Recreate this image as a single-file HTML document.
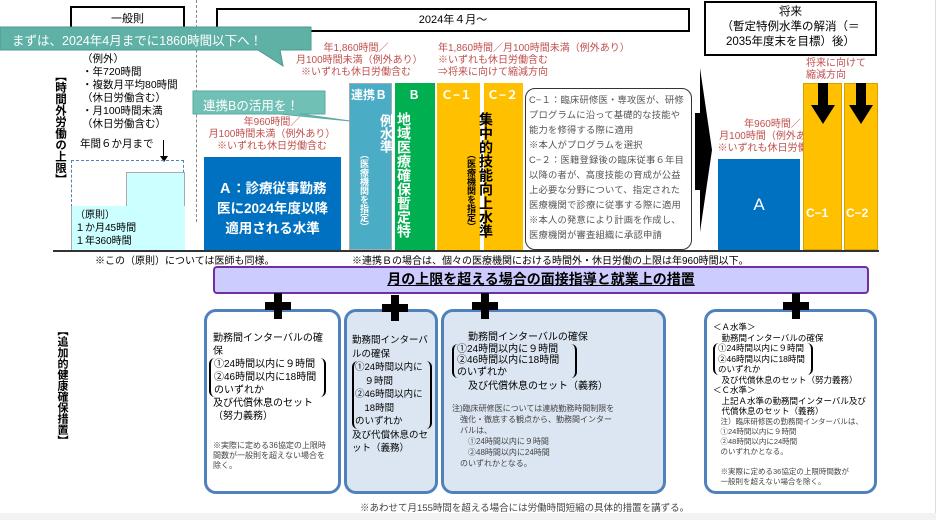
<!DOCTYPE html>
<html><head><meta charset="utf-8"><style>
*{margin:0;padding:0;box-sizing:border-box}
body{width:936px;height:520px;background:#fff;position:relative;overflow:hidden;font-family:"Liberation Sans","Noto Sans CJK JP",sans-serif;color:#000}
.a{position:absolute}
.box{position:absolute;border:2px solid #000;background:#fff;text-align:center;font-size:11px}
.red{color:#c0504d;font-size:10px;line-height:12px;position:absolute;text-align:center;white-space:nowrap}
.v{writing-mode:vertical-rl;position:absolute;font-weight:bold;color:#fff}
.lb{position:absolute;border:3px solid #4f81bd;border-radius:12px;font-size:9.5px;line-height:12px;padding:4px 6px}
.plus{position:absolute;width:26px;height:26px}
.plus:before{content:"";position:absolute;left:9px;top:0;width:8px;height:26px;background:#000}
.plus:after{content:"";position:absolute;left:0;top:9px;width:26px;height:8px;background:#000}
.sm{font-size:8px;line-height:10px;color:#444}
.br{border-left:2px solid #000;border-right:2px solid #000;border-radius:6px;padding:0 3px}
</style></head><body>
<div class="a" style="left:935px;top:0;width:1px;height:520px;background:#ddd"></div>
<div class="a" style="left:0;top:513px;width:936px;height:7px;background:#f2f2f2"></div>
<div class="a" style="left:196px;top:0;height:222px;border-left:1.5px dashed #888"></div>
<div class="box" style="left:70px;top:6px;width:115px;height:26px;line-height:22px">一般則</div>
<div class="box" style="left:216px;top:8px;width:474px;height:24px;line-height:20px">2024年４月～</div>
<div class="box" style="left:704px;top:1px;width:173px;height:55px;line-height:15px;padding-top:2px;font-size:11.5px">将来<br>（暫定特例水準の解消（＝<br>2035年度末を目標）後）</div>
<div class="a" style="left:82px;top:53px;font-size:10.5px;line-height:13px">（例外）<br>・年720時間<br>・複数月平均80時間<br>（休日労働含む）<br>・月100時間未満<br>（休日労働含む）</div>
<div class="a" style="left:80px;top:136px;font-size:10.5px">年間６か月まで</div>
<div class="a" style="left:163px;top:140px;width:1px;height:20px;background:#000"></div>
<div class="a" style="left:160px;top:156px;border-left:4px solid transparent;border-right:4px solid transparent;border-top:6px solid #000"></div>
<div class="v" style="left:53px;top:70px;color:#000;font-size:11.5px;line-height:14px">【時間外労働の上限】</div>
<div class="a" style="left:71px;top:160px;width:113px;height:47px;border:1px dashed #4f81bd"></div>
<div class="a" style="left:126px;top:172px;width:59px;height:78px;background:#ccffff;border:1px solid #aaa;border-bottom:none"></div>
<div class="a" style="left:71px;top:206px;width:114px;height:44px;background:#ccffff;border-left:1px solid #aaa"></div>
<div class="a" style="left:75px;top:209px;font-size:10px;line-height:13px">（原則）<br>１か月45時間<br>１年360時間</div>
<div class="a" style="left:53px;top:250px;width:826px;height:1.5px;background:#333"></div>
<div class="a" style="left:95px;top:252px;font-size:10px">※この（原則）については医師も同様。</div>
<div class="a" style="left:352px;top:252px;font-size:10px">※連携Ｂの場合は、個々の医療機関における時間外・休日労働の上限は年960時間以下。</div>
<div class="red" style="left:296px;top:43px;width:120px">年1,860時間／<br>月100時間未満（例外あり）<br>※いずれも休日労働含む</div>
<div class="red" style="left:438px;top:43px;text-align:left">年1,860時間／月100時間未満（例外あり）<br>※いずれも休日労働含む<br>⇒将来に向けて縮減方向</div>
<div class="red" style="left:207px;top:117px;width:130px">年960時間／<br>月100時間未満（例外あり）<br>※いずれも休日労働含む</div>
<div class="red" style="left:710px;top:119px;width:125px">年960時間／<br>月100時間（例外あり）<br>※いずれも休日労働含む</div>
<div class="red" style="left:806px;top:58px;text-align:left">将来に向けて<br>縮減方向</div>
<div class="a" style="left:204px;top:157px;width:137px;height:93px;background:#0070c0;color:#fff;font-weight:bold;font-size:13.5px;line-height:20px;text-align:center;padding-top:22px">Ａ：診療従事勤務<br>医に2024年度以降<br>適用される水準</div>
<div class="a" style="left:349px;top:83px;width:43px;height:167px;background:#4bacc6;border:1px solid #aaa"></div>
<div class="a" style="left:351px;top:86px;color:#fff;font-weight:bold;font-size:12px">連携Ｂ</div>
<div class="v" style="left:376px;top:114px;font-size:13px">例水準</div>
<div class="v" style="left:358px;top:150px;font-size:9px;color:#fff">（医療機関を指定）</div>
<div class="a" style="left:395px;top:83px;width:40px;height:167px;background:#00b050"></div>
<div class="a" style="left:408px;top:86px;color:#fff;font-weight:bold;font-size:12px">Ｂ</div>
<div class="v" style="left:395px;top:112px;font-size:14px;line-height:18px">地域医療確保暫定特</div>
<div class="a" style="left:437px;top:83px;width:43px;height:167px;background:#ffc000"></div>
<div class="a" style="left:484px;top:83px;width:39px;height:167px;background:#ffc000"></div>
<div class="a" style="left:441px;top:86px;color:#fff;font-weight:bold;font-size:12px">Ｃ−１</div>
<div class="a" style="left:487px;top:86px;color:#fff;font-weight:bold;font-size:12px">Ｃ−２</div>
<div class="v" style="left:478px;top:112px;color:#000;font-size:14px;line-height:16px">集中的技能向上水準</div>
<div class="v" style="left:465px;top:150px;color:#000;font-size:9px">（医療機関を指定）</div>
<div class="a" style="left:525px;top:88px;width:167px;height:162px;border:1.5px solid #333;border-radius:10px;font-size:9.3px;line-height:15px;color:#555;padding:4px 3px;letter-spacing:0.2px">C−１：臨床研修医・専攻医が、研修プログラムに沿って基礎的な技能や能力を修得する際に適用<br>※本人がプログラムを選択<br>C−２：医籍登録後の臨床従事６年目以降の者が、高度技能の育成が公益上必要な分野について、指定された医療機関で診療に従事する際に適用<br>※本人の発意により計画を作成し、医療機関が審査組織に承認申請</div>
<svg class="a" style="left:692px;top:68px" width="24" height="165"><polygon points="3,45 8,45 8,0 20,82 8,164 8,122 3,122" fill="#000"/></svg>
<div class="a" style="left:718px;top:159px;width:82px;height:91px;background:#0070c0;color:#fff;font-size:17px;text-align:center;line-height:91px">A</div>
<div class="a" style="left:803px;top:83px;width:39px;height:167px;background:#ffc000;border:1px solid #d9a000"></div>
<div class="a" style="left:844px;top:83px;width:34px;height:167px;background:#ffc000;border:1px solid #d9a000"></div>
<svg class="a" style="left:809px;top:83px" width="70" height="42"><polygon points="9,0 19,0 19,22 26,22 14,41 2,22 9,22" fill="#000"/><polygon points="47,0 57,0 57,22 64,22 52,41 40,22 47,22" fill="#000"/></svg>
<div class="a" style="left:806px;top:206px;color:#fff;font-weight:bold;font-size:12px">C−1</div>
<div class="a" style="left:846px;top:206px;color:#fff;font-weight:bold;font-size:12px">C−2</div>
<svg class="a" style="left:0;top:26px" width="360" height="100"><polygon points="0,1 311,1 311,24 280,24 283,40 258,24 0,24" fill="#5fb0a5" stroke="#4a9a90"/><polygon points="193,65 325,65 325,88 300,88 350,95 280,88 193,88" fill="#70c0b5" stroke="#5aaaa0"/></svg>
<div class="a" style="left:12px;top:30px;color:#fff;font-size:12.5px">まずは、2024年4月までに1860時間以下へ！</div>
<div class="a" style="left:203px;top:95px;color:#fff;font-size:12.5px">連携Bの活用を！</div>
<div class="a" style="left:213px;top:266px;width:656px;height:28px;background:#ccccff;border:2.5px solid #7030a0;border-radius:4px;font-size:14px;font-weight:bold;text-align:center;line-height:23px"><u>月の上限を超える場合の面接指導と就業上の措置</u></div>
<div class="v" style="left:55px;top:325px;color:#000;font-size:11px;line-height:14px">【追加的健康確保措置】</div>
<div class="lb" style="left:204px;top:309px;width:137px;height:185px;background:#fff;padding-top:20px;font-size:10px;line-height:13px">勤務間インターバルの確保<div class="br" style="width:117px;margin-left:-4px">①24時間以内に９時間<br>②46時間以内に18時間<br>のいずれか</div>及び代償休息のセット<br>（努力義務）<div class="sm" style="margin-top:18px">※実際に定める36協定の上限時間数が一般則を超えない場合を除く。</div></div>
<div class="lb" style="left:344px;top:309px;width:94px;height:185px;background:#dce6f2;padding:22px 3px 0 5px;font-size:9.5px;line-height:13.5px">勤務間インターバルの確保<div class="br" style="padding:0 1px;white-space:nowrap">①24時間以内に<br>　９時間<br>②46時間以内に<br>　18時間<br>のいずれか</div>及び代償休息のセット（義務）</div>
<div class="lb" style="left:441px;top:309px;width:225px;height:185px;background:#dce6f2;padding:20px 10px 0 8px;font-size:10px;line-height:11.5px"><div style="padding-left:16px">勤務間インターバルの確保</div><div class="br" style="width:125px">①24時間以内に９時間<br>②46時間以内に18時間<br>のいずれか</div><div style="padding-left:16px;margin-top:3px">及び代償休息のセット（義務）</div><div class="sm" style="margin-top:10px;line-height:11px">注)臨床研修医については連続勤務時間制限を<br>　強化・徹底する観点から、勤務間インター<br>　バルは、<br>　　①24時間以内に９時間<br>　　②48時間以内に24時間<br>　のいずれかとなる。</div></div>
<div class="lb" style="left:704px;top:309px;width:173px;height:185px;background:#fff;padding:10px 4px 0 6px;font-size:8.5px;line-height:10.5px">＜Ａ水準＞<br>　勤務間インターバルの確保<div class="br" style="width:100px">①24時間以内に９時間<br>②46時間以内に18時間<br>のいずれか</div>　及び代償休息のセット（努力義務）<br>＜Ｃ水準＞<br>　上記Ａ水準の勤務間インターバル及び<br>　代償休息のセット（義務）<div class="sm" style="font-size:7.5px">　注）臨床研修医の勤務間インターバルは、<br>　①24時間以内に９時間<br>　②48時間以内に24時間<br>　のいずれかとなる。<br><br>　※実際に定める36協定の上限時間数が<br>　一般則を超えない場合を除く。</div></div>
<div class="plus" style="left:265px;top:293px"></div>
<div class="plus" style="left:382px;top:295px"></div>
<div class="plus" style="left:472px;top:293px"></div>
<div class="plus" style="left:783px;top:293px"></div>
<div class="a" style="left:360px;top:500px;font-size:9.5px;color:#444">※あわせて月155時間を超える場合には労働時間短縮の具体的措置を講ずる。</div>
</body></html>
